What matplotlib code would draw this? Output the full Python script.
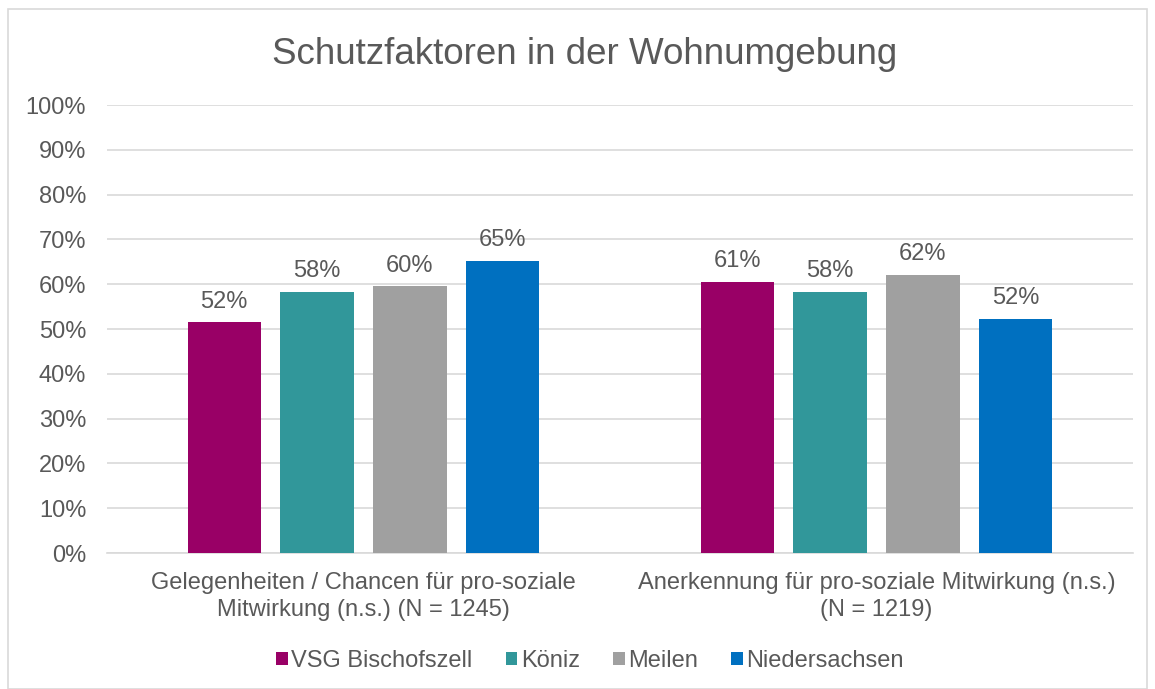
import numpy as np
import matplotlib
matplotlib.use("Agg")
import matplotlib.pyplot as plt
from matplotlib.patches import Rectangle
import matplotlib.ticker as ticker

plt.rcParams["font.family"] = ["Liberation Sans", "DejaVu Sans"]

# ---- data ----
categories = ["Gelegenheiten / Chancen für pro-soziale\nMitwirkung (n.s.) (N = 1245)",
              "Anerkennung für pro-soziale Mitwirkung (n.s.)\n(N = 1219)"]
series = ["VSG Bischofszell", "Köniz", "Meilen", "Niedersachsen"]
values = [
    [51.5, 60.6],   # VSG Bischofszell
    [58.3, 58.3],   # Köniz
    [59.5, 62.1],   # Meilen
    [65.2, 52.3],   # Niedersachsen
]
labels = [
    ["52%", "61%"],
    ["58%", "58%"],
    ["60%", "62%"],
    ["65%", "52%"],
]
colors = ["#990066", "#31979A", "#A0A0A0", "#0070C0"]

text_col = "#595959"
grid_col = "#D9D9D9"
fs = 17

fig = plt.figure(figsize=(11.55, 6.89), dpi=100)
fig.patches.append(Rectangle((8 / 1155, 0.0), 1139 / 1155, 1 - 9 / 689,
                             transform=fig.transFigure, fill=False,
                             edgecolor=grid_col, lw=1.2))
ax = fig.add_axes([107 / 1155, 1 - 553 / 689, 1026 / 1155, 448 / 689])

x = np.arange(len(categories))
width = 0.143
step = 0.181
for i, (name, vals, lbls, c) in enumerate(zip(series, values, labels, colors)):
    pos = x + (i - 1.5) * step
    ax.bar(pos, vals, width, color=c, label=name, zorder=3)
    for p, v, t in zip(pos, vals, lbls):
        ax.annotate(t, (p, v), textcoords="offset points", xytext=(0, 7),
                    ha="center", va="bottom", fontsize=fs, color=text_col)

ax.set_xlim(-0.5, 1.5)
ax.set_ylim(0, 100)
ax.yaxis.set_major_locator(ticker.MultipleLocator(10))
ax.yaxis.set_major_formatter(ticker.FuncFormatter(lambda v, _: "{:.0f}%".format(v)))
ax.set_xticks(x)
ax.set_xticklabels(categories, fontsize=fs, color=text_col, linespacing=1.25)
ax.tick_params(axis="both", length=0, labelsize=fs, labelcolor=text_col)
ax.tick_params(axis="x", pad=14)
ax.tick_params(axis="y", pad=15)
ax.grid(True, axis="y", color=grid_col, lw=1.2, zorder=0)
for s in ["top", "right", "left"]:
    ax.spines[s].set_visible(False)
ax.spines["bottom"].set_color(grid_col)
ax.spines["bottom"].set_linewidth(1.2)

fig.text(585 / 1155, 1 - 55 / 689, "Schutzfaktoren in der Wohnumgebung",
         ha="center", va="center", fontsize=26.5, color=text_col)

fig.legend(loc="center", bbox_to_anchor=(590 / 1155, 1 - 661 / 689), ncol=4,
           frameon=False, fontsize=fs, labelcolor=text_col,
           handlelength=0.5, handleheight=0.5, handletextpad=0.15,
           columnspacing=1.4)

fig.savefig("out.png", dpi=100)
